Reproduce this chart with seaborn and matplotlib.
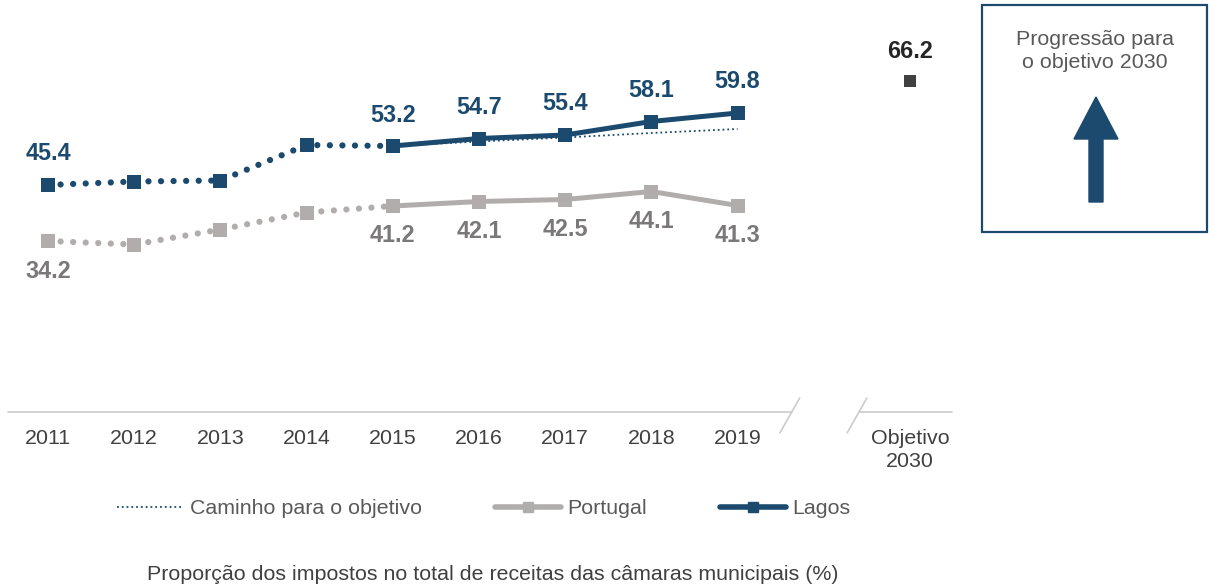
import matplotlib
matplotlib.use("Agg")
import matplotlib.pyplot as plt
import seaborn as sns
import pandas as pd
from matplotlib.lines import Line2D
from matplotlib.patches import Rectangle, FancyArrow

# ---- data -------------------------------------------------------------
years = ["2011", "2012", "2013", "2014", "2015", "2016", "2017", "2018", "2019"]
lagos = [45.4, 46.1, 46.3, 53.4, 53.2, 54.7, 55.4, 58.1, 59.8]
portugal = [34.2, 33.5, 36.5, 39.9, 41.2, 42.1, 42.5, 44.1, 41.3]
path_years = ["2015", "2016", "2017", "2018", "2019"]
path_values = [53.2, 54.1, 54.9, 55.8, 56.6]
target_label = "Objetivo\n2030"
target_value = 66.2
labelled_years = ["2011", "2015", "2016", "2017", "2018", "2019"]
split_year = "2015"

NAVY = "#1b4a6e"
GRAY = "#b1adad"
GRAY_TXT = "#7a7878"
TXT = "#404040"
FS = 15.4
FS_VAL = 16.8

sns.set_theme(style="white")
plt.rcParams["font.family"] = ["Liberation Sans", "DejaVu Sans"]

W, H = 1209, 588
fig = plt.figure(figsize=(W / 100, H / 100), dpi=100)
ax = fig.add_axes([8 / W, (H - 412) / H, 944 / W, 412 / H])

pos = {y: i for i, y in enumerate(years)}
target_pos = len(years) + 1
df = pd.DataFrame({"pos": [pos[y] for y in years], "year": years,
                   "Lagos": lagos, "Portugal": portugal})
split = pos[split_year]
hist = df[df["pos"] <= split]
recent = df[df["pos"] >= split]
path_df = pd.DataFrame({"pos": [pos[y] for y in path_years], "value": path_values})

dotted = dict(linewidth=4.5, linestyle=(0, (0.01, 2.0)), dash_capstyle="round",
              marker="s", markersize=9.5, markeredgewidth=0,
              legend=False, errorbar=None, sort=False)
solid = dict(linewidth=3.6, marker="s", markersize=9.5, markeredgewidth=0,
             legend=False, errorbar=None, sort=False)

# path towards the 2030 target
sns.lineplot(data=path_df, x="pos", y="value", ax=ax, color=NAVY, linewidth=1.3,
             linestyle=":", legend=False, errorbar=None, sort=False, zorder=2)

for col, color in (("Portugal", GRAY), ("Lagos", NAVY)):
    sns.lineplot(data=hist, x="pos", y=col, ax=ax, color=color, zorder=3, **dotted)
    sns.lineplot(data=recent, x="pos", y=col, ax=ax, color=color, zorder=3, **solid)

# target marker
sns.scatterplot(x=[target_pos], y=[target_value], ax=ax, marker="s", s=75,
                color="#404040", linewidth=0, legend=False, zorder=4)

# value labels
for _, row in df[df["year"].isin(labelled_years)].iterrows():
    ax.annotate(f"{row['Lagos']:.1f}", (row["pos"], row["Lagos"]), xytext=(0, 31),
                textcoords="offset pixels", ha="center", va="center",
                fontsize=FS_VAL, fontweight="bold", color=NAVY)
    ax.annotate(f"{row['Portugal']:.1f}", (row["pos"], row["Portugal"]), xytext=(0, -30),
                textcoords="offset pixels", ha="center", va="center",
                fontsize=FS_VAL, fontweight="bold", color=GRAY_TXT)
ax.annotate(f"{target_value:.1f}", (target_pos, target_value), xytext=(0, 30),
            textcoords="offset pixels", ha="center", va="center",
            fontsize=FS_VAL, fontweight="bold", color="#262626")

# axes styling
ax.set_xlim(-40 / 86.2, 904 / 86.2)
ax.set_ylim(0, 82.4)
ax.set_yticks([])
ax.set_xticks(list(range(len(years))) + [target_pos])
ax.set_xticklabels(years + [target_label], fontsize=FS, color=TXT, linespacing=1.3)
ax.tick_params(axis="x", length=0, pad=12)
ax.set_xlabel("")
ax.set_ylabel("")
sns.despine(ax=ax, left=True, bottom=True)

# broken baseline
base = dict(color="#cccccc", linewidth=1.2, clip_on=False, zorder=1)
ax.plot([-40 / 86.2, 8.63], [0, 0], **base)
ax.plot([9.41, 904 / 86.2], [0, 0], **base)
ax.plot([8.49, 8.72], [-4.2, 2.8], **base)
ax.plot([9.27, 9.50], [-4.2, 2.8], **base)

# progress box
fig.add_artist(Rectangle((982 / W, (H - 232) / H), 225 / W, 227 / H,
                         transform=fig.transFigure, fill=False,
                         edgecolor=NAVY, linewidth=1.6))
fig.text(1095 / W, 1 - 51 / H, "Progressão para\no objetivo 2030", ha="center",
         va="center", fontsize=FS, color="#595959", linespacing=1.25)
fig.add_artist(FancyArrow(10.96, (H - 202) / 100, 0, 1.05, width=0.14,
                          head_width=0.44, head_length=0.42,
                          length_includes_head=True,
                          transform=fig.dpi_scale_trans, color=NAVY))

# legend
handles = [
    Line2D([], [], color=NAVY, linewidth=1.3, linestyle=":"),
    Line2D([], [], color=GRAY, linewidth=4, marker="s", markersize=7,
           solid_capstyle="round"),
    Line2D([], [], color=NAVY, linewidth=4, marker="s", markersize=7,
           solid_capstyle="round"),
]
fig.legend(handles, ["Caminho para o objetivo", "Portugal", "Lagos"],
           loc="center", bbox_to_anchor=(484 / W, 1 - 509 / H), ncol=3,
           frameon=False, fontsize=FS, handlelength=3.1, handletextpad=0.3,
           columnspacing=3.4, labelcolor="#595959")

fig.text(493 / W, 1 - 575 / H,
         "Proporção dos impostos no total de receitas das câmaras municipais (%)",
         ha="center", va="center", fontsize=FS, color=TXT)

fig.savefig("out.png", dpi=100)
